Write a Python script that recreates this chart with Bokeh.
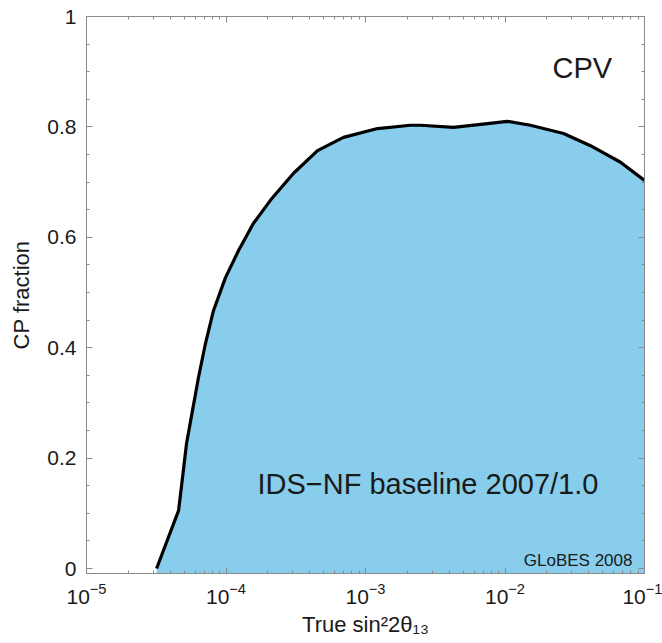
from bokeh.plotting import figure
from bokeh.models import (Range1d, LogAxis, LinearAxis, LogTicker, SingleIntervalTicker,
                          CustomJSTickFormatter, Label)
from bokeh.embed import file_html
from bokeh.resources import INLINE

# --- data ---
sin2_2theta13 = [3.18e-5, 4.57e-5, 4.88e-5, 5.21e-5, 5.75e-5, 6.35e-5, 7.13e-5, 8.13e-5,
                 9.91e-5, 1.23e-4, 1.57e-4, 2.08e-4, 3.05e-4, 4.53e-4, 6.95e-4, 1.22e-3,
                 2.10e-3, 2.48e-3, 4.27e-3, 7.5e-3, 1.04e-2, 1.52e-2, 2.63e-2, 4.1e-2,
                 6.73e-2, 1.0e-1]
cp_fraction = [0.0, 0.105, 0.165, 0.226, 0.286, 0.346, 0.408, 0.467,
               0.527, 0.576, 0.625, 0.667, 0.716, 0.757, 0.781, 0.797,
               0.803, 0.803, 0.799, 0.806, 0.810, 0.803, 0.788, 0.766,
               0.736, 0.703]
y_floor = -0.009

FONT = "Liberation Sans"
AX_COL = "#8a8a8a"
TXT_COL = "#1a1a1a"

p = figure(width=662, height=643, x_axis_type="log",
           x_range=Range1d(1e-5, 1e-1), y_range=Range1d(y_floor, 1.0),
           output_backend="svg", toolbar_location=None,
           min_border_left=86, min_border_right=18, min_border_top=16, min_border_bottom=70)
p.background_fill_color = "white"
p.border_fill_color = "white"
p.outline_line_color = AX_COL
p.xgrid.visible = False
p.ygrid.visible = False

p.varea(x=sin2_2theta13, y1=[y_floor] * len(sin2_2theta13), y2=cp_fraction,
        fill_color="#88cdeb")
p.line(x=sin2_2theta13, y=cp_fraction, line_color="black", line_width=3.2,
       line_join="round")

def style(ax):
    ax.axis_line_color = AX_COL
    ax.major_tick_line_color = AX_COL
    ax.minor_tick_line_color = AX_COL
    ax.major_tick_in = 6
    ax.major_tick_out = 0
    ax.minor_tick_in = 3
    ax.minor_tick_out = 0
    ax.major_label_text_font = FONT
    ax.major_label_text_font_size = "21px"
    ax.major_label_text_color = TXT_COL
    ax.axis_label_text_font = FONT
    ax.axis_label_text_font_style = "normal"
    ax.axis_label_text_color = TXT_COL
    ax.axis_label_text_font_size = "22px"

yfmt = CustomJSTickFormatter(code="return String(Math.round(tick*10)/10)")
blank = CustomJSTickFormatter(code="return ''")

# bottom axis
xa = p.xaxis[0]
xa.ticker = LogTicker(num_minor_ticks=10)
style(xa)
xa.axis_label = "True sin²2θ₁₃"
xa.major_label_standoff = 9
xa.axis_label_standoff = 5

# left axis
ya = p.yaxis[0]
ya.ticker = SingleIntervalTicker(interval=0.2, num_minor_ticks=4)
ya.formatter = yfmt
style(ya)
ya.axis_label = "CP fraction"
ya.major_label_standoff = 10
ya.axis_label_standoff = 10

# mirrored axes (ticks only)
top = LogAxis(ticker=LogTicker(num_minor_ticks=10), formatter=blank)
style(top)
top.major_label_standoff = 0
p.add_layout(top, "above")
right = LinearAxis(ticker=SingleIntervalTicker(interval=0.2, num_minor_ticks=4), formatter=blank)
style(right)
right.major_label_standoff = 0
p.add_layout(right, "right")

p.add_layout(Label(x=2.19e-2, y=0.906, text="CPV", text_font=FONT, text_font_size="29px",
                   text_color=TXT_COL, text_align="left", text_baseline="alphabetic"))
p.add_layout(Label(x=1.68e-4, y=0.154, text="IDS−NF baseline 2007/1.0", text_font=FONT,
                   text_font_size="29px", text_color=TXT_COL, text_align="left",
                   text_baseline="alphabetic"))
p.add_layout(Label(x=8.2e-2, y=0.0145, text="GLoBES 2008", text_font=FONT,
                   text_font_size="17px", text_color=TXT_COL, text_align="right",
                   text_baseline="alphabetic"))

open("out.html", "w").write(file_html(p, INLINE))
